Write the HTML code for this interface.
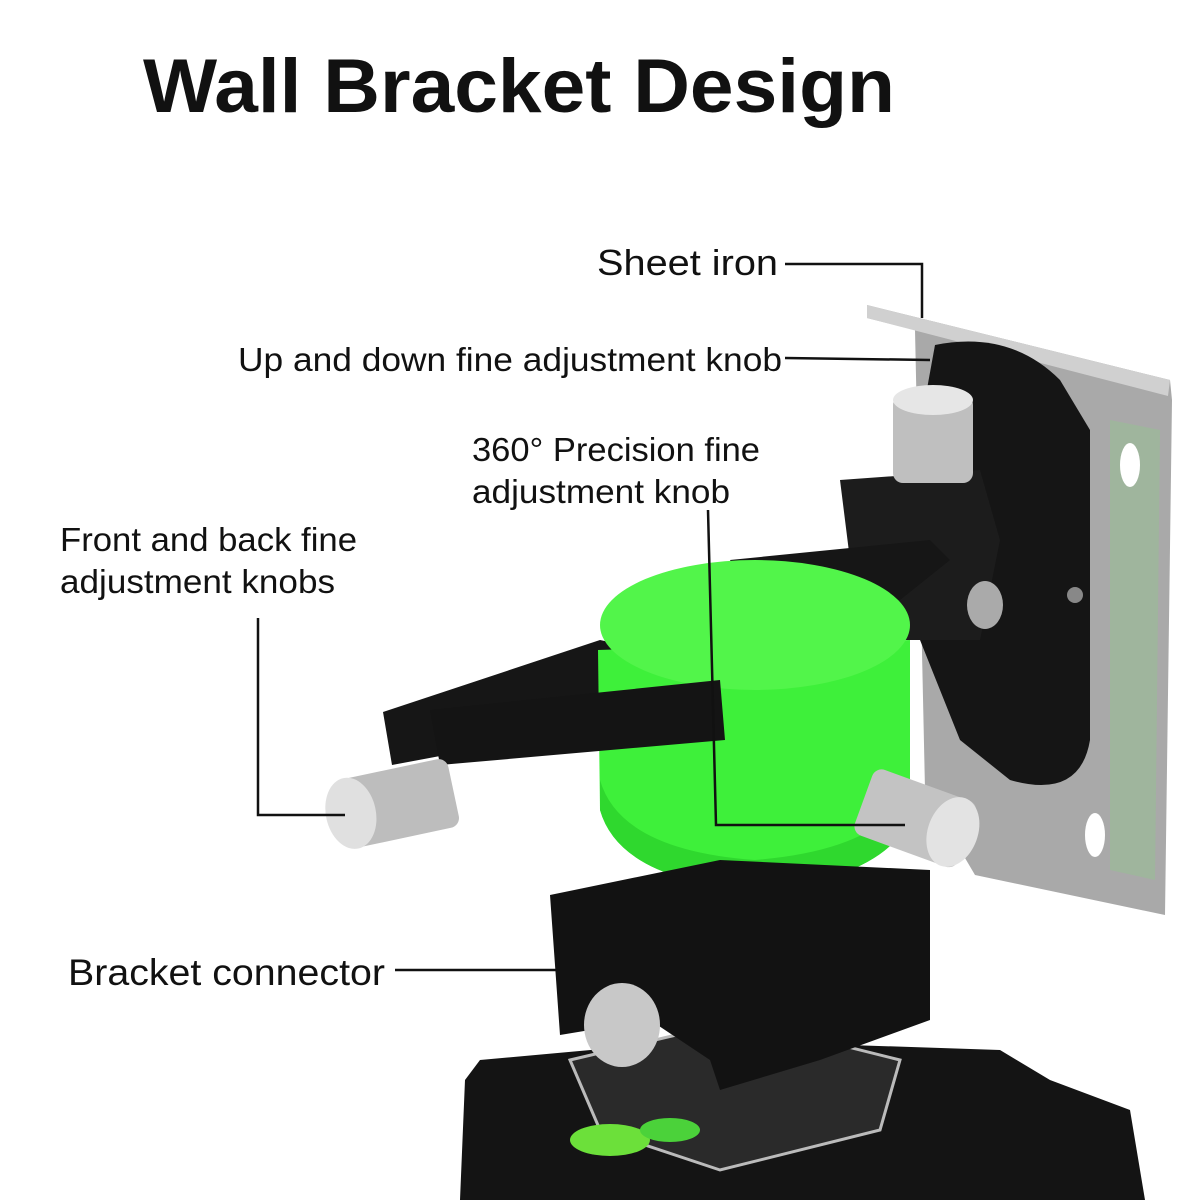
<!DOCTYPE html>
<html><head><meta charset="utf-8"><style>
body{margin:0;background:#fff;width:1200px;height:1200px;overflow:hidden}
svg{display:block}
text{font-family:"Liberation Sans",sans-serif;fill:#111}
</style></head><body>
<svg width="1200" height="1200" viewBox="0 0 1200 1200">
<path d="M480 1060 L700 1040 L1000 1050 L1050 1080 L1130 1110 L1145 1200 L460 1200 L465 1080 Z" fill="#141414"/>
<path d="M570 1060 L740 1020 L900 1060 L880 1130 L720 1170 L600 1130 Z" fill="#2a2a2a" stroke="#bbb" stroke-width="3"/>
<ellipse cx="610" cy="1140" rx="40" ry="16" fill="#6ce03a"/>
<ellipse cx="670" cy="1130" rx="30" ry="12" fill="#4bd23a"/>
<path d="M867 305 L1170 380 L1172 400 L1165 915 L975 875 L925 790 L915 330 L867 318 Z" fill="#a9a9a9"/>
<path d="M867 305 L1170 380 L1168 396 L867 318 Z" fill="#d0d0d0"/>
<path d="M1110 420 L1160 430 L1155 880 L1110 870 Z" fill="#9fb59d"/>
<ellipse cx="1130" cy="465" rx="10" ry="22" fill="#fff"/>
<ellipse cx="1095" cy="835" rx="10" ry="22" fill="#fff"/>
<path d="M935 345 Q1010 330 1060 380 L1090 430 L1090 740 Q1080 800 1010 780 L960 740 L920 640 L925 400 Z" fill="#151515"/>
<path d="M840 480 L980 470 L1000 540 L980 640 L900 640 L850 560 Z" fill="#1c1c1c"/>
<ellipse cx="985" cy="605" rx="18" ry="24" fill="#aaa"/>
<circle cx="1075" cy="595" r="8" fill="#888"/>
<rect x="893" y="395" width="80" height="88" rx="10" fill="#bfbfbf"/>
<ellipse cx="933" cy="400" rx="40" ry="15" fill="#e6e6e6"/>
<path d="M730 560 L930 540 L950 560 L900 600 L760 620 Z" fill="#161616"/>
<path d="M383 712 L600 640 L740 670 L740 700 L392 765 Z" fill="#161616"/>
<path d="M598 650 L600 810 Q620 880 755 890 Q880 880 910 820 L910 640 Z" fill="#3ef03a"/>
<ellipse cx="755" cy="625" rx="155" ry="65" fill="#52f54a"/>
<path d="M600 780 Q620 850 755 860 Q880 850 910 790 L910 820 Q880 880 755 890 Q620 880 600 810 Z" fill="#2fd82e"/>
<path d="M430 710 L720 680 L725 740 L440 765 Z" fill="#141414"/>
<path d="M550 895 L720 860 L930 870 L930 1020 L820 1060 L720 1090 L710 1060 L650 1020 L560 1035 Z" fill="#121212"/>
<ellipse cx="622" cy="1025" rx="38" ry="42" fill="#c8c8c8"/>
<g transform="rotate(-12 390 805)"><rect x="345" y="770" width="110" height="70" rx="10" fill="#bdbdbd"/><ellipse cx="350" cy="805" rx="25" ry="36" fill="#e0e0e0"/></g>
<g transform="rotate(20 920 820)"><rect x="860" y="785" width="110" height="70" rx="10" fill="#c3c3c3"/><ellipse cx="955" cy="820" rx="25" ry="36" fill="#e3e3e3"/></g>
<g stroke="#111" stroke-width="2.5" fill="none">
<polyline points="785,264 922,264 922,318"/>
<polyline points="785,358 930,360"/>
<polyline points="708,510 716,825 905,825"/>
<polyline points="258,618 258,815 345,815"/>
<polyline points="395,970 560,970"/>
</g>
<text x="143" y="112" font-size="76" font-weight="bold" textLength="752" lengthAdjust="spacingAndGlyphs">Wall Bracket Design</text>
<text x="597" y="275" font-size="36" textLength="181" lengthAdjust="spacingAndGlyphs">Sheet iron</text>
<text x="238" y="371" font-size="33" textLength="544" lengthAdjust="spacingAndGlyphs">Up and down fine adjustment knob</text>
<text x="472" y="461" font-size="33" textLength="288" lengthAdjust="spacingAndGlyphs">360° Precision fine</text>
<text x="472" y="503" font-size="33" textLength="258" lengthAdjust="spacingAndGlyphs">adjustment knob</text>
<text x="60" y="551" font-size="33" textLength="297" lengthAdjust="spacingAndGlyphs">Front and back fine</text>
<text x="60" y="593" font-size="33" textLength="275" lengthAdjust="spacingAndGlyphs">adjustment knobs</text>
<text x="68" y="985" font-size="37" textLength="317" lengthAdjust="spacingAndGlyphs">Bracket connector</text>
</svg>
</body></html>
